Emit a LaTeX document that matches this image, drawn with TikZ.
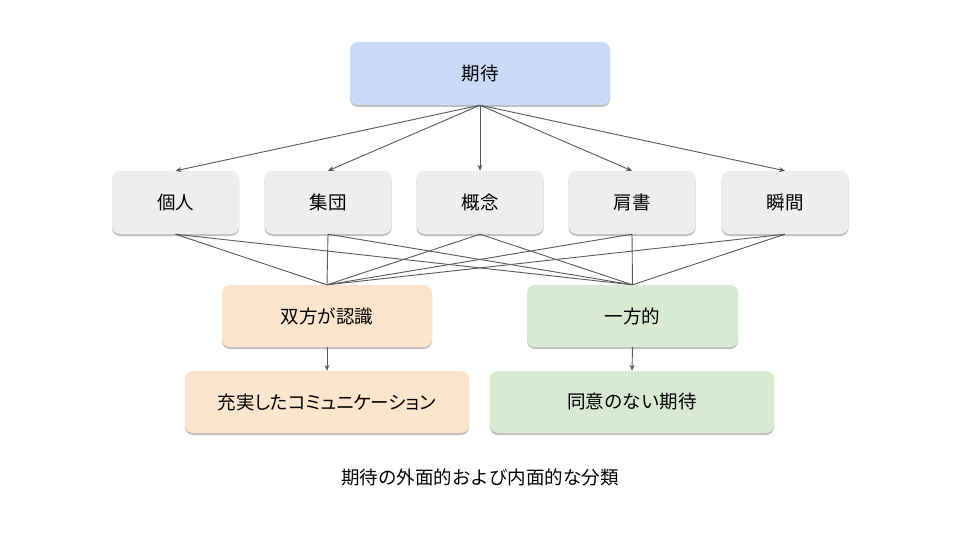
\documentclass[tikz,border=0pt]{standalone}
\usepackage{fontspec}
\setmainfont{Noto Sans CJK JP}
\newfontfamily\propjp[RawFeature=+palt]{Noto Sans CJK JP}
\usetikzlibrary{shadows,arrows.meta}
\definecolor{topfill}{HTML}{C9DAF8}
\definecolor{midfill}{HTML}{EEEEEE}
\definecolor{orangefill}{HTML}{FCE5CD}
\definecolor{greenfill}{HTML}{D9EAD3}
\definecolor{linegray}{HTML}{595959}
\tikzset{
  box/.style={rounded corners=8pt, inner sep=0pt, font=\fontsize{18.5}{22}\selectfont,
    drop shadow={shadow xshift=0pt, shadow yshift=-2pt, opacity=0.25, fill=black}},
  conn/.style={draw=linegray, line width=0.9pt},
  arr/.style={conn, -{Stealth[length=6pt,width=5pt]}}
}
\begin{document}
\begin{tikzpicture}[x=1pt,y=-1pt]
\useasboundingbox[fill=white] (0,0) rectangle (960,540);
\node[box, fill=topfill, minimum width=260pt, minimum height=63pt] (top) at (480,73.5) {期待};
\node[box, fill=midfill, minimum width=127pt, minimum height=63pt] (m1) at (175.5,202.5) {個人};
\node[box, fill=midfill, minimum width=127pt, minimum height=63pt] (m2) at (328,202.5) {集団};
\node[box, fill=midfill, minimum width=127pt, minimum height=63pt] (m3) at (480,202.5) {概念};
\node[box, fill=midfill, minimum width=127pt, minimum height=63pt] (m4) at (632,202.5) {肩書};
\node[box, fill=midfill, minimum width=127pt, minimum height=63pt] (m5) at (785,202.5) {瞬間};
\node[box, fill=orangefill, minimum width=210pt, minimum height=62pt] (b1) at (327,316) {双方が認識};
\node[box, fill=greenfill, minimum width=211pt, minimum height=62pt] (b2) at (632.5,316) {一方的};
\node[box, fill=orangefill, minimum width=284pt, minimum height=62pt] (c1) at (327,402) {\propjp 充実したコミュニケーション};
\node[box, fill=greenfill, minimum width=284pt, minimum height=62pt] (c2) at (632,402) {同意のない期待};
\node[font=\fontsize{18.5}{22}\selectfont] (cap) at (480,477) {期待の外面的および内面的な分類};
\foreach \m in {m1,m2,m3,m4,m5}{
  \draw[arr] (top.south) -- (\m.north);
  \draw[conn] (\m.south) -- (b1.north);
  \draw[conn] (\m.south) -- (b2.north);
}
\draw[arr] (b1.south) -- (c1.north);
\draw[arr] (b2.south) -- (c2.north);
\end{tikzpicture}
\end{document}
